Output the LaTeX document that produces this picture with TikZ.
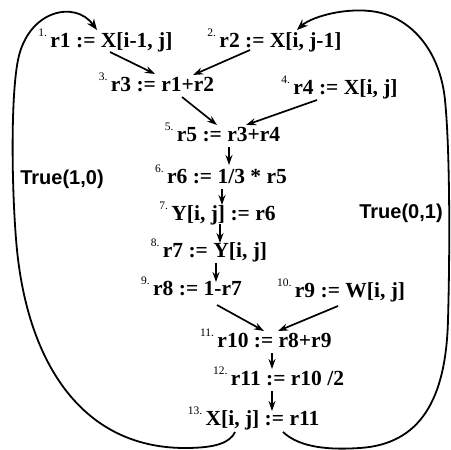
\documentclass[tikz,border=0pt]{standalone}
\usepackage{fontspec}
\setmainfont{Liberation Serif}
\newfontfamily\sansf{Liberation Sans}
\usetikzlibrary{arrows.meta}
\begin{document}
\begin{tikzpicture}[x=1pt,y=-1pt,
  code/.style={font=\fontsize{21.5}{24}\selectfont\bfseries, inner sep=0pt,
    text height=15pt, text depth=4pt},
  num/.style={font=\fontsize{11.5}{12}\selectfont, inner sep=0pt, yshift=9pt, xshift=-3pt},
  arr/.style={-{Stealth[length=10pt,width=7pt]}, line width=1.7pt},
  loopedge/.style={-{Stealth[length=11pt,width=8.5pt]}, line width=1.8pt},
  truel/.style={font=\sansf\fontsize{20}{24}\selectfont\bfseries, inner sep=0pt}]
\useasboundingbox (0,0) rectangle (451,450);

\node[code,label={[num]west:1.}]  (n1)  at (111.5,42) {r1 := X[i-1, j]};
\node[code,label={[num]west:2.}]  (n2)  at (280.5,42) {r2 := X[i, j-1]};
\node[code,label={[num]west:3.}]  (n3)  at (162.5,86) {r3 := r1+r2};
\node[code,label={[num]west:4.}]  (n4)  at (345.5,89) {r4 := X[i, j]};
\node[code,label={[num]west:5.}]  (n5)  at (228.5,136) {r5 := r3+r4};
\node[code,label={[num]west:6.}]  (n6)  at (227,178) {r6 := 1/3 * r5};
\node[code,label={[num]west:7.}]  (n7)  at (223.5,215) {Y[i, j] := r6};
\node[code,label={[num]west:8.}]  (n8)  at (215,252) {r7 := Y[i, j]};
\node[code,label={[num]west:9.}]  (n9)  at (197.5,290) {r8 := 1-r7};
\node[code,label={[num]west:10.}] (n10) at (350,292) {r9 := W[i, j]};
\node[code,label={[num]west:11.}] (n11) at (274.5,342) {r10 := r8+r9};
\node[code,label={[num]west:12.}] (n12) at (287.5,380) {r11 := r10 /2};
\node[code,label={[num]west:13.}] (n13) at (262.5,420) {X[i, j] := r11};

\node[truel] (t10) at (62,179) {True(1,0)};
\node[truel] (t01) at (401,213) {True(0,1)};

\draw[arr] ([shift={(-1.5,10)}]n1.center) -- ([shift={(-7.5,-12)}]n3.center);
\draw[arr] ([shift={(-30.5,8)}]n2.center) -- ([shift={(30.5,-11)}]n3.center);
\draw[arr] ([shift={(19.5,11)}]n3.center) -- ([shift={(-11.5,-11)}]n5.center);
\draw[arr] ([shift={(-28.5,11)}]n4.center) -- ([shift={(17.5,-11)}]n5.center);
\draw[arr] ([shift={(0.5,11)}]n5.center) -- ([shift={(2,-13)}]n6.center);
\draw[arr] ([shift={(-5,11)}]n6.center) -- ([shift={(-1.5,-10)}]n7.center);
\draw[arr] ([shift={(-3.5,9)}]n7.center) -- ([shift={(5,-9)}]n8.center);
\draw[arr] ([shift={(1,11)}]n8.center) -- ([shift={(18.5,-8)}]n9.center);
\draw[arr] ([shift={(19.5,15)}]n9.center) -- ([shift={(-10.5,-11)}]n11.center);
\draw[arr] ([shift={(-12,14)}]n10.center) -- ([shift={(3.5,-11)}]n11.center);
\draw[arr] ([shift={(-2.5,11)}]n11.center) -- ([shift={(-15.5,-11)}]n12.center);
\draw[arr] ([shift={(-15.5,11)}]n12.center) -- ([shift={(9.5,-9)}]n13.center);

\coordinate (l1) at (185,448);
\coordinate (l2) at (17,250);
\coordinate (l3) at (18,60);
\draw[loopedge] ([shift={(-27.5,12)}]n13.center)
  .. controls (230,443) and (215,448) .. (l1)
  .. controls (80,448) and (28,360) .. (l2)
  .. controls (12,200) and (10,100) .. (l3)
  .. controls (28,10) and (75,0) .. ([shift={(-14.5,-12)}]n1.center);

\coordinate (r1) at (360,448);
\coordinate (r2) at (448,320);
\coordinate (r3) at (445,100);
\coordinate (r4) at (370,11);
\draw[loopedge] ([shift={(20.5,12)}]n13.center)
  .. controls (300,448) and (330,450) .. (r1)
  .. controls (420,444) and (446,400) .. (r2)
  .. controls (450,250) and (450,150) .. (r3)
  .. controls (440,50) and (410,15) .. (r4)
  .. controls (340,8) and (310,18) .. ([shift={(16.5,-12)}]n2.center);
\end{tikzpicture}
\end{document}
